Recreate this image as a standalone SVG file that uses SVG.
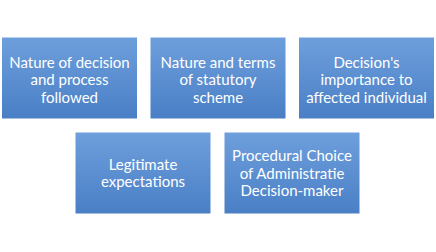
<svg xmlns="http://www.w3.org/2000/svg" width="436" height="252" viewBox="0 0 436 252">
  <defs>
    <linearGradient id="boxFill" x1="0" y1="0" x2="0" y2="1">
      <stop offset="0" stop-color="#6e9fdc"/>
      <stop offset="1" stop-color="#4a7fc6"/>
    </linearGradient>
  </defs>
  <style>
    .box { fill: url(#boxFill); }
    .label { fill: #ffffff; font-family: Lato, "Liberation Sans", sans-serif; font-size: 15px; text-anchor: middle; }
  </style>
  <rect width="436" height="252" fill="#ffffff"/>

  <g id="nature-of-decision">
    <rect class="box" x="2" y="37.5" width="135" height="81"/>
    <text class="label" x="69.5" y="67.5">Nature of decision</text>
    <text class="label" x="69.5" y="85">and process</text>
    <text class="label" x="69.5" y="102.5">followed</text>
  </g>

  <g id="statutory-scheme">
    <rect class="box" x="150.5" y="37.5" width="135" height="81"/>
    <text class="label" x="218" y="67.5">Nature and terms</text>
    <text class="label" x="218" y="85">of statutory</text>
    <text class="label" x="218" y="102.5">scheme</text>
  </g>

  <g id="importance-to-individual">
    <rect class="box" x="299" y="37.5" width="135" height="81"/>
    <text class="label" x="366.5" y="67.5">Decision's</text>
    <text class="label" x="366.5" y="85">importance to</text>
    <text class="label" x="366.5" y="102.5">affected individual</text>
  </g>

  <g id="legitimate-expectations">
    <rect class="box" x="75.5" y="132.5" width="135" height="81"/>
    <text class="label" x="143" y="169.5">Legitimate</text>
    <text class="label" x="143" y="187">expectations</text>
  </g>

  <g id="procedural-choice">
    <rect class="box" x="224.5" y="132.5" width="135" height="81"/>
    <text class="label" x="292" y="161">Procedural Choice</text>
    <text class="label" x="292" y="178.5">of Administratie</text>
    <text class="label" x="292" y="196">Decision-maker</text>
  </g>

  <g id="connectors"></g>
</svg>
